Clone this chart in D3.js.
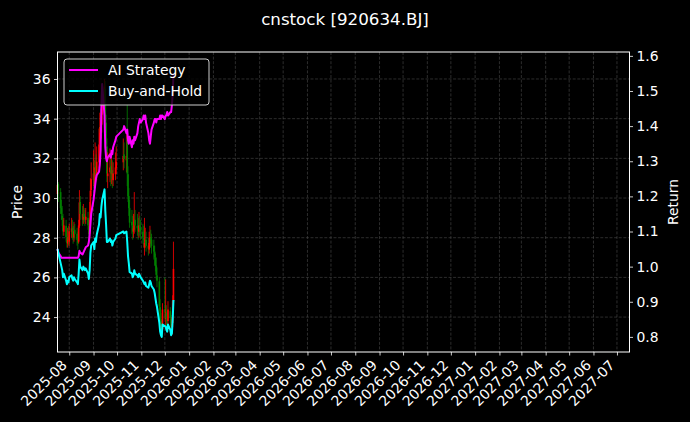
<!DOCTYPE html>
<html><head><meta charset="utf-8">
<script src="https://cdn.jsdelivr.net/npm/d3@7"></script>
<style>
html,body{margin:0;padding:0;background:#000;}
svg{display:block;}
text{font-family:"DejaVu Sans",sans-serif;fill:#fff;}
</style></head>
<body>
<svg id="chart" width="690" height="422"></svg>
<script>
const dates = ["2025-07-17","2025-07-18","2025-07-21","2025-07-22","2025-07-23","2025-07-24","2025-07-25","2025-07-28","2025-07-29","2025-07-30","2025-07-31",
"2025-08-01","2025-08-04","2025-08-05","2025-08-06","2025-08-07","2025-08-08","2025-08-11","2025-08-12","2025-08-13","2025-08-14","2025-08-15","2025-08-18","2025-08-19","2025-08-20","2025-08-21","2025-08-22","2025-08-25","2025-08-26","2025-08-27","2025-08-28","2025-08-29",
"2025-09-01","2025-09-02","2025-09-03","2025-09-04","2025-09-05","2025-09-08","2025-09-09","2025-09-10","2025-09-11","2025-09-12","2025-09-15","2025-09-16","2025-09-17","2025-09-18","2025-09-19","2025-09-22","2025-09-23","2025-09-24","2025-09-25","2025-09-26","2025-09-29","2025-09-30",
"2025-10-09","2025-10-10","2025-10-13","2025-10-14","2025-10-15","2025-10-16","2025-10-17","2025-10-20","2025-10-21","2025-10-22","2025-10-23","2025-10-24","2025-10-27","2025-10-28","2025-10-29","2025-10-30","2025-10-31",
"2025-11-03","2025-11-04","2025-11-05","2025-11-06","2025-11-07","2025-11-10","2025-11-11","2025-11-12","2025-11-13","2025-11-14","2025-11-17","2025-11-18","2025-11-19","2025-11-20","2025-11-21","2025-11-24","2025-11-25","2025-11-26","2025-11-27","2025-11-28",
"2025-12-01","2025-12-02","2025-12-03","2025-12-04","2025-12-05","2025-12-08","2025-12-09","2025-12-10","2025-12-11","2025-12-12"];

const open = [30.20,30.70,30.30,29.50,29.10,28.90,28.30,28.60,28.00,27.70,28.10,
27.80,28.30,28.50,28.20,28.00,28.40,28.20,27.90,27.80,28.60,29.80,29.20,28.90,29.20,29.10,28.90,29.00,28.60,28.20,28.90,30.40,
30.90,31.30,30.70,31.60,31.20,31.80,32.70,33.60,33.30,34.20,34.80,35.50,33.80,32.60,31.10,31.30,31.60,31.20,31.40,30.90,31.20,31.50,
31.80,32.20,31.90,33.00,31.20,30.10,29.50,28.80,28.60,28.30,28.40,28.90,28.60,28.50,28.30,28.60,28.50,
28.30,28.00,27.50,27.80,27.90,27.60,27.40,27.70,28.00,27.90,27.60,27.30,27.00,26.60,26.10,25.80,24.50,23.80,23.50,23.40,
24.40,23.90,24.20,23.90,23.80,24.30,23.90,23.50,23.70,24.80];
const high = [30.90,30.80,30.50,29.90,29.60,29.20,29.00,28.90,28.40,28.50,28.60,
28.70,29.00,28.90,28.60,28.80,28.70,28.50,28.30,28.90,30.40,30.10,29.60,29.70,29.50,29.40,29.50,29.30,28.90,29.80,31.00,31.80,
32.40,31.90,32.80,32.20,32.60,33.50,34.30,34.50,35.20,35.60,36.00,35.90,34.20,33.00,32.30,32.50,32.10,32.40,31.90,31.80,32.30,32.60,
33.00,32.80,33.40,34.70,31.60,30.50,29.90,29.40,29.10,29.20,30.30,29.40,29.20,29.00,29.30,29.10,28.90,
28.70,28.60,29.00,28.50,28.30,28.00,28.30,28.60,28.40,28.20,27.90,27.60,27.20,27.00,26.50,26.00,24.90,24.20,23.90,24.70,
26.00,25.90,24.60,24.30,24.80,24.50,24.10,24.00,25.10,27.80];
const low = [29.90,29.80,29.20,28.90,28.60,28.10,28.10,27.80,27.50,27.50,27.60,
27.60,28.00,27.90,27.70,27.80,27.90,27.60,27.40,27.70,28.50,28.90,28.60,28.70,28.80,28.60,28.70,28.40,27.90,28.00,28.80,30.10,
30.60,30.20,30.50,30.80,30.90,31.50,32.30,32.80,33.00,33.70,34.10,33.40,32.20,30.80,30.50,30.80,30.60,30.70,30.50,30.60,30.90,31.20,
31.40,31.50,31.30,30.60,29.80,29.10,28.50,28.20,27.90,28.00,28.20,28.30,28.10,27.90,28.00,28.10,27.90,
27.70,27.50,27.10,27.50,27.30,27.10,27.20,27.50,27.50,27.20,26.90,26.60,26.30,25.90,25.50,24.30,23.50,23.20,22.95,23.20,
23.90,23.60,23.60,23.40,23.60,23.70,23.20,23.10,23.50,24.50];
const close = [30.66,30.37,29.49,29.20,28.91,28.32,28.62,28.03,27.74,28.03,27.89,
28.32,28.47,28.18,28.03,28.32,28.18,27.89,27.74,28.62,29.78,29.20,28.91,29.20,29.05,28.91,29.05,28.62,28.18,28.91,30.37,30.95,
31.24,30.66,31.54,31.24,31.83,32.70,33.58,33.29,34.16,34.75,35.62,33.87,32.70,31.24,31.24,31.54,31.24,31.39,30.95,31.24,31.54,31.83,
32.12,31.97,32.12,31.24,30.08,29.49,28.76,28.62,28.32,28.47,28.91,28.62,28.47,28.32,28.62,28.47,28.32,
28.03,27.89,27.74,27.89,27.59,27.45,27.74,28.03,27.89,27.59,27.30,27.01,26.57,26.13,25.84,24.53,23.80,23.51,23.36,24.38,
24.24,24.24,23.94,23.80,24.38,23.94,23.51,23.65,24.82,26.43];

const strategy = [1.05,1.04,1.03,1.025,1.025,1.025,1.025,1.025,1.025,1.025,1.025,
1.025,1.025,1.025,1.025,1.025,1.025,1.025,1.025,1.03,1.045,1.04,1.035,1.04,1.045,1.05,1.055,1.06,1.07,1.09,1.12,1.15,
1.19,1.21,1.23,1.25,1.26,1.27,1.29,1.33,1.45,1.52,1.43,1.34,1.31,1.30,1.31,1.32,1.31,1.33,1.32,1.34,1.36,1.37,
1.39,1.40,1.38,1.39,1.36,1.35,1.37,1.34,1.36,1.35,1.37,1.36,1.38,1.40,1.41,1.42,1.41,
1.42,1.43,1.42,1.43,1.41,1.38,1.36,1.35,1.37,1.39,1.41,1.42,1.42,1.41,1.42,1.42,1.43,1.42,1.43,1.43,
1.42,1.43,1.43,1.44,1.43,1.44,1.44,1.46,1.49,1.55];
const buyHold = [1.05,1.04,1.01,1.00,0.99,0.97,0.98,0.96,0.95,0.96,0.955,
0.97,0.975,0.965,0.96,0.97,0.965,0.955,0.95,0.98,1.02,1.00,0.99,1.00,0.995,0.99,0.995,0.98,0.965,0.99,1.04,1.06,
1.07,1.05,1.08,1.07,1.09,1.12,1.15,1.14,1.17,1.19,1.22,1.16,1.12,1.07,1.07,1.08,1.07,1.075,1.06,1.07,1.08,1.09,
1.10,1.095,1.10,1.07,1.03,1.01,0.985,0.98,0.97,0.975,0.99,0.98,0.975,0.97,0.98,0.975,0.97,
0.96,0.955,0.95,0.955,0.945,0.94,0.95,0.96,0.955,0.945,0.935,0.925,0.91,0.895,0.885,0.84,0.815,0.805,0.80,0.835,
0.83,0.83,0.82,0.815,0.835,0.82,0.805,0.81,0.85,0.905];

const priceTicks = [24,26,28,30,32,34,36];
const returnTicks = [0.8,0.9,1.0,1.1,1.2,1.3,1.4,1.5,1.6];
const monthTicks = ["2025-08","2025-09","2025-10","2025-11","2025-12","2026-01","2026-02","2026-03","2026-04","2026-05","2026-06","2026-07","2026-08","2026-09","2026-10","2026-11","2026-12","2027-01","2027-02","2027-03","2027-04","2027-05","2027-06","2027-07"];
const xRange = ["2025-07-17","2027-07-17"];
const title = "cnstock [920634.BJ]";
const seriesNames = ["AI Strategy","Buy-and-Hold"];
const seriesColors = ["#ff00ff","#00ffff"];

const parse = d3.utcParse("%Y-%m-%d");
const parseM = d3.utcParse("%Y-%m");
const L = 57.5, R = 629.5, T = 52, B = 352;
const svg = d3.select("#chart");
svg.append("rect").attr("width",690).attr("height",422).attr("fill","#000");

const x = d3.scaleUtc().domain(xRange.map(parse)).range([L,R]);
const yP = d3.scaleLinear().domain([22.24,37.36]).range([B,T]);
const yR = d3.scaleLinear().domain([0.757,1.611]).range([B,T]);

const data = dates.map((d,i)=>({date:parse(d),o:open[i],h:high[i],l:low[i],c:close[i],s:strategy[i],b:buyHold[i]}));
const tickDates = monthTicks.map(parseM);

// grid
const grid = svg.append("g").attr("stroke","#4a4a4a").attr("stroke-width",0.6).attr("stroke-dasharray","3,1.6");
tickDates.forEach(t=>grid.append("line").attr("x1",x(t)).attr("x2",x(t)).attr("y1",T).attr("y2",B));
priceTicks.forEach(t=>grid.append("line").attr("x1",L).attr("x2",R).attr("y1",yP(t)).attr("y2",yP(t)));

// candles
const plot = svg.append("g");
const cg = plot.append("g");
data.forEach(d=>{
  const col = d.c>=d.o ? "#ff0000" : "#008000";
  const cx = x(d.date);
  cg.append("line").attr("x1",cx).attr("x2",cx).attr("y1",yP(d.h)).attr("y2",yP(d.l)).attr("stroke",col).attr("stroke-width",0.8);
  const top = yP(Math.max(d.o,d.c)), bot = yP(Math.min(d.o,d.c));
  cg.append("rect").attr("x",cx-0.8).attr("width",1.6).attr("y",top).attr("height",Math.max(0.6,bot-top)).attr("fill",col);
});

// lines
const lineS = d3.line().x(d=>x(d.date)).y(d=>yR(d.s));
const lineB = d3.line().x(d=>x(d.date)).y(d=>yR(d.b));
plot.append("path").datum(data).attr("d",lineS).attr("fill","none").attr("stroke",seriesColors[0]).attr("stroke-width",2).attr("stroke-linejoin","round");
plot.append("path").datum(data).attr("d",lineB).attr("fill","none").attr("stroke",seriesColors[1]).attr("stroke-width",2).attr("stroke-linejoin","round");

// frame
svg.append("rect").attr("x",L).attr("y",T).attr("width",R-L).attr("height",B-T).attr("fill","none").attr("stroke","#fff").attr("stroke-width",1);

// axes
const fs = "13.9px";
const leftAx = svg.append("g").attr("transform",`translate(${L},0)`)
  .call(d3.axisLeft(yP).tickValues(priceTicks).tickSize(3.5).tickPadding(3.5).tickFormat(d3.format("d")));
const rightAx = svg.append("g").attr("transform",`translate(${R},0)`)
  .call(d3.axisRight(yR).tickValues(returnTicks).tickSize(3.5).tickPadding(3.5).tickFormat(d3.format(".1f")));
const botAx = svg.append("g").attr("transform",`translate(0,${B})`)
  .call(d3.axisBottom(x).tickValues(tickDates).tickSize(3.5).tickFormat(d3.utcFormat("%Y-%m")));
[leftAx,rightAx,botAx].forEach(a=>{
  a.select(".domain").remove();
  a.selectAll(".tick line").attr("stroke","#fff").attr("stroke-width",0.8);
  a.selectAll(".tick text").attr("fill","#fff").style("font-size",fs).style("font-family","DejaVu Sans");
});
botAx.selectAll(".tick text")
  .attr("text-anchor","end").attr("dy",null).attr("y",null)
  .attr("transform","translate(-2,14) rotate(-45)");

// labels
svg.append("text").attr("transform",`translate(22,${(T+B)/2}) rotate(-90)`).attr("text-anchor","middle").style("font-size",fs).text("Price");
svg.append("text").attr("transform",`translate(678,${(T+B)/2}) rotate(-90)`).attr("text-anchor","middle").style("font-size",fs).text("Return");
svg.append("text").attr("x",345).attr("y",25).attr("text-anchor","middle").style("font-size","16.7px").text(title);

// legend
const lg = svg.append("g");
lg.append("rect").attr("x",64).attr("y",59).attr("width",145).attr("height",46).attr("rx",3)
  .attr("fill","#000").attr("fill-opacity",0.8).attr("stroke","#ccc").attr("stroke-width",1);
seriesNames.forEach((n,i)=>{
  const yy = 70 + i*21;
  lg.append("line").attr("x1",69).attr("x2",98).attr("y1",yy).attr("y2",yy).attr("stroke",seriesColors[i]).attr("stroke-width",2);
  lg.append("text").attr("x",108).attr("y",yy+5).style("font-size",fs).text(n);
});
</script>
</body></html>
